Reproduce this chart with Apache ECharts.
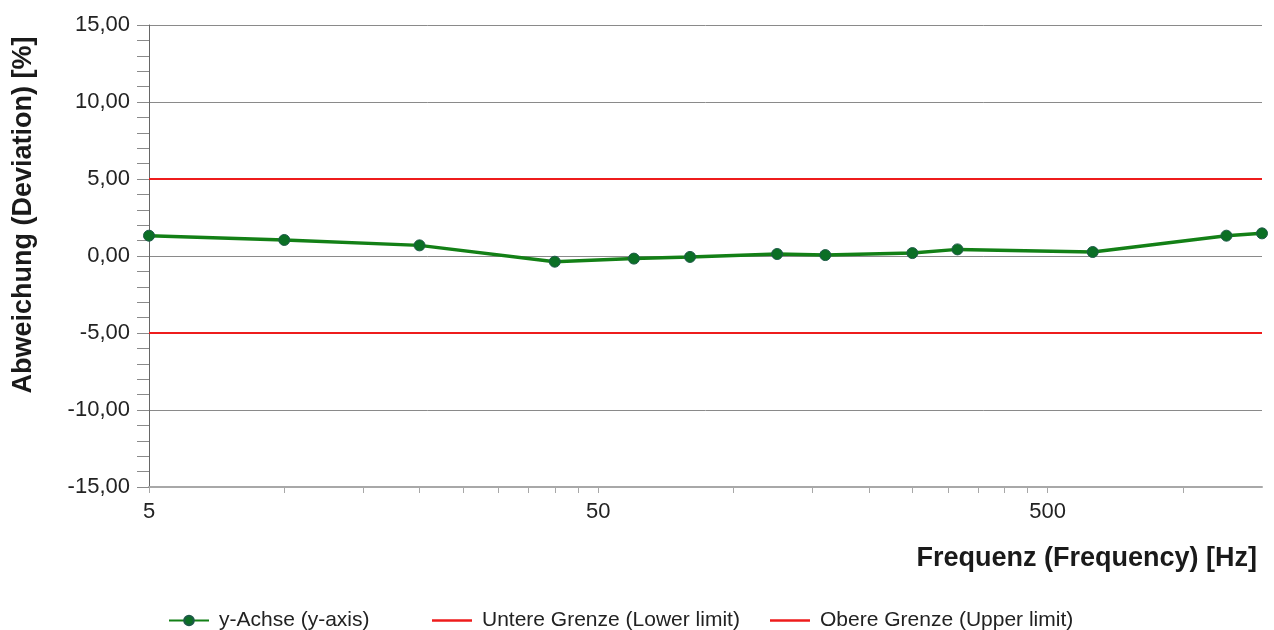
<!DOCTYPE html>
<html>
<head>
<meta charset="utf-8">
<title>Abweichung</title>
<script src="https://cdn.jsdelivr.net/npm/echarts@6/dist/echarts.min.js"></script>
<style>
    html, body { margin: 0; padding: 0; background: #fff; }
    #es_chart { width: 1274px; height: 630px; }
</style>
</head>
<body>
<div id="es_chart"></div>
<script>
// Messwerte
const freqHz = [5, 10, 20, 40, 60, 80, 125, 160, 250, 315, 630, 1250, 1500];
const deviation = [1.32, 1.04, 0.69, -0.37, -0.17, -0.06, 0.13, 0.06, 0.19, 0.43, 0.26, 1.32, 1.47];

// Grenzen
const limitFreq = [5, 1500];
const lowerLimit = [-5, -5];
const upperLimit = [5, 5];

// Achsen
const xLabelFreq = [5, 50, 500];
const xTickFreq = [5, 10, 15, 20, 25, 30, 35, 40, 45, 50, 100, 150, 200, 250, 300, 350, 400, 450, 500, 1000];
const yMin = -15;
const yMax = 15;
const yStep = 5;

const seriesNames = ['y-Achse (y-axis)', 'Untere Grenze (Lower limit)', 'Obere Grenze (Upper limit)'];

function lg(f) {
    return Math.log10(f);
}

function pairs(xs, ys) {
    return xs.map(function (x, i) {
        return [lg(x), ys[i]];
    });
}

let fontName = '"Liberation Sans", Arial, sans-serif';
let axisGrey = '#8a8a8a';
let limitRed = '#ee1c1c';
// flacher Balken als Legenden-Symbol der Grenzlinien
let flatIcon = 'path://M0,0L40,0L40,2.4L0,2.4Z';

function legendAt(left, item) {
    return {
        left: left,
        top: 605,
        itemWidth: 40,
        itemHeight: 12,
        data: [item],
        textStyle: {
            fontFamily: fontName,
            fontSize: 21,
            color: '#222',
            padding: [0, 0, 0, 5]
        }
    };
}

let option = {
    animation: false,
    backgroundColor: '#fff',
    textStyle: {fontFamily: fontName},
    grid: {
        left: 149,
        right: 12,
        top: 25,
        bottom: 143,
        containLabel: false,
        outerBoundsMode: 'none'
    },
    legend: [
        legendAt(163, {name: seriesNames[0]}),
        legendAt(427, {name: seriesNames[1], icon: flatIcon}),
        legendAt(765, {name: seriesNames[2], icon: flatIcon})
    ],
    xAxis: {
        type: 'value',
        min: lg(limitFreq[0]),
        max: lg(limitFreq[1]),
        name: 'Frequenz (Frequency) [Hz]',
        nameLocation: 'end',
        nameGap: -5,
        nameMoveOverlap: false,
        nameTextStyle: {
            fontFamily: fontName,
            fontSize: 27,
            fontWeight: 'bold',
            color: '#1a1a1a',
            align: 'right',
            verticalAlign: 'top',
            padding: [58, 0, 0, 0]
        },
        axisLine: {
            show: true,
            onZero: false,
            lineStyle: {color: '#a8a8a8', width: 2}
        },
        axisTick: {
            show: true,
            length: 6,
            customValues: xTickFreq.map(lg),
            lineStyle: {color: '#a8a8a8', width: 1}
        },
        axisLabel: {
            margin: 14,
            fontSize: 22,
            color: '#222',
            customValues: xLabelFreq.map(lg),
            formatter: function (value) {
                return String(Math.round(Math.pow(10, value)));
            }
        },
        splitLine: {show: false}
    },
    yAxis: {
        type: 'value',
        min: yMin,
        max: yMax,
        interval: yStep,
        name: 'Abweichung (Deviation) [%]',
        nameLocation: 'middle',
        nameGap: 112,
        nameMoveOverlap: false,
        nameTextStyle: {
            fontFamily: fontName,
            fontSize: 27,
            fontWeight: 'bold',
            color: '#1a1a1a',
            padding: [0, 0, 0, 82]
        },
        axisLine: {
            show: true,
            lineStyle: {color: '#666', width: 1}
        },
        axisTick: {
            show: true,
            length: 12,
            lineStyle: {color: axisGrey}
        },
        minorTick: {
            show: true,
            splitNumber: 5,
            length: 12,
            lineStyle: {color: axisGrey}
        },
        axisLabel: {
            margin: 19,
            fontSize: 22,
            color: '#222',
            formatter: function (value) {
                return value.toFixed(2).replace('.', ',');
            }
        },
        splitLine: {
            show: true,
            lineStyle: {color: axisGrey, width: 1}
        }
    },
    series: [
        {
            name: seriesNames[1],
            type: 'line',
            symbol: 'none',
            z: 2,
            lineStyle: {color: limitRed, width: 2},
            itemStyle: {color: limitRed},
            data: pairs(limitFreq, lowerLimit)
        },
        {
            name: seriesNames[2],
            type: 'line',
            symbol: 'none',
            z: 2,
            lineStyle: {color: limitRed, width: 2},
            itemStyle: {color: limitRed},
            data: pairs(limitFreq, upperLimit)
        },
        {
            name: seriesNames[0],
            type: 'line',
            symbol: 'circle',
            symbolSize: 11,
            z: 5,
            lineStyle: {color: '#138016', width: 3.5},
            itemStyle: {color: '#0b6f25', borderColor: '#1d5a48', borderWidth: 1},
            data: pairs(freqHz, deviation)
        }
    ]
};

let chart = echarts.init(document.getElementById('es_chart'));
chart.setOption(option);
</script>
</body>
</html>
